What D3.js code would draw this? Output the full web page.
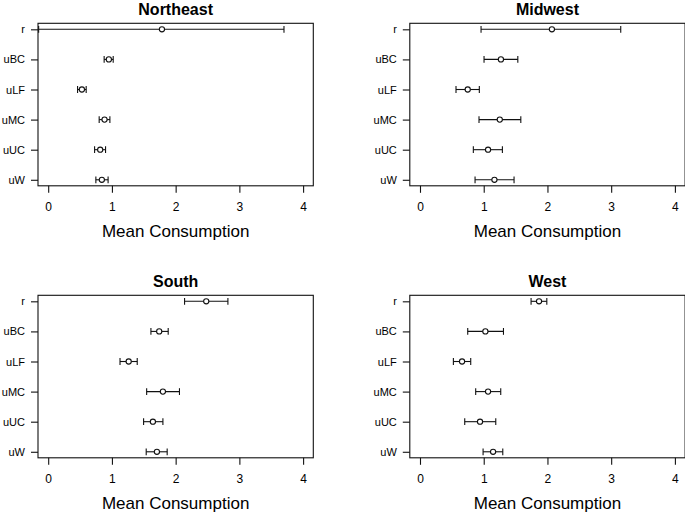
<!DOCTYPE html>
<html>
<head>
<meta charset="utf-8">
<script src="https://cdn.jsdelivr.net/npm/d3@7/dist/d3.min.js"></script>
<style>
  html, body { margin: 0; padding: 0; background: #fff; }
  svg { display: block; }
  text { font-family: "Liberation Sans", Arial, Helvetica, sans-serif; fill: #000; }
</style>
</head>
<body>
<div id="chart"></div>
<script>
// ---- data ----
const regions = ["Northeast", "Midwest", "South", "West"];
const categories = ["r", "uBC", "uLF", "uMC", "uUC", "uW"];
const xTicks = [0, 1, 2, 3, 4];

const meanNortheast  = [1.785, 0.952, 0.529, 0.884, 0.816, 0.842];
const lowerNortheast = [-0.15, 0.878, 0.461, 0.800, 0.728, 0.748];
const upperNortheast = [3.700, 1.020, 0.596, 0.968, 0.900, 0.940];

const meanMidwest  = [2.070, 1.270, 0.749, 1.252, 1.068, 1.168];
const lowerMidwest = [0.958, 1.005, 0.565, 0.926, 0.837, 0.864];
const upperMidwest = [3.150, 1.535, 0.931, 1.582, 1.293, 1.476];

const meanSouth  = [2.480, 1.742, 1.263, 1.800, 1.643, 1.706];
const lowerSouth = [2.140, 1.612, 1.127, 1.545, 1.497, 1.538];
const upperSouth = [2.820, 1.883, 1.397, 2.060, 1.800, 1.867];

const meanWest  = [1.868, 1.026, 0.660, 1.068, 0.942, 1.147];
const lowerWest = [1.743, 0.749, 0.524, 0.874, 0.702, 0.990];
const upperWest = [1.990, 1.310, 0.796, 1.267, 1.189, 1.299];

const panelMeans = [meanNortheast, meanMidwest, meanSouth, meanWest];
const panelLower = [lowerNortheast, lowerMidwest, lowerSouth, lowerWest];
const panelUpper = [upperNortheast, upperMidwest, upperSouth, upperWest];

// ---- layout ----
const W = 685, H = 514;
const plotW = 275.3, plotH = 162.5;
const lefts = [38, 409.8, 38, 409.8];
const tops  = [23.3, 23.3, 295.3, 295.3];
const ink = "#111";

const svg = d3.select("#chart").append("svg")
  .attr("width", W).attr("height", H);

regions.forEach((name, p) => {
  const L = lefts[p], T = tops[p];
  const x = d3.scaleLinear().domain([-0.16, 4.16]).range([L, L + plotW]);
  const y = d3.scaleLinear().domain([0.8, 6.2]).range([T + plotH, T]);
  const yPos = i => y(categories.length - i);

  const g = svg.append("g");

  g.append("rect")
    .attr("x", L).attr("y", T).attr("width", plotW).attr("height", plotH)
    .attr("fill", "none").attr("stroke", ink).attr("stroke-width", 1.1);

  const xa = g.append("g")
    .attr("transform", `translate(0,${T + plotH})`)
    .call(d3.axisBottom(x).tickValues(xTicks).tickSize(7).tickFormat(d3.format("d")));
  xa.select(".domain").remove();
  xa.selectAll(".tick line").attr("stroke", ink).attr("stroke-width", 1.1);
  xa.selectAll(".tick text")
    .attr("y", 25).attr("dy", null)
    .style("font-size", "12px").style("font-family", "Liberation Sans, Arial, sans-serif");

  const ya = g.append("g")
    .attr("transform", `translate(${L},0)`)
    .call(d3.axisLeft(d3.scalePoint().domain(categories).range([yPos(0), yPos(categories.length - 1)]))
      .tickSize(7).tickPadding(6));
  ya.select(".domain").remove();
  ya.selectAll(".tick line").attr("stroke", ink).attr("stroke-width", 1.1);
  ya.selectAll(".tick text")
    .style("font-size", "11px").style("font-family", "Liberation Sans, Arial, sans-serif");

  const means = panelMeans[p], lo = panelLower[p], hi = panelUpper[p];
  const rows = categories.map((c, i) => ({ c, i, m: means[i], lo: lo[i], hi: hi[i] }));
  const bars = g.append("g");
  bars.selectAll("line.bar").data(rows).join("line")
    .attr("class", "bar")
    .attr("x1", d => x(d.lo)).attr("x2", d => x(d.hi))
    .attr("y1", d => yPos(d.i)).attr("y2", d => yPos(d.i))
    .attr("stroke", ink).attr("stroke-width", 1.1);
  bars.selectAll("line.capL").data(rows).join("line")
    .attr("class", "capL")
    .attr("x1", d => x(d.lo)).attr("x2", d => x(d.lo))
    .attr("y1", d => yPos(d.i) - 3.4).attr("y2", d => yPos(d.i) + 3.4)
    .attr("stroke", ink).attr("stroke-width", 1.1);
  bars.selectAll("line.capR").data(rows).join("line")
    .attr("class", "capR")
    .attr("x1", d => x(d.hi)).attr("x2", d => x(d.hi))
    .attr("y1", d => yPos(d.i) - 3.4).attr("y2", d => yPos(d.i) + 3.4)
    .attr("stroke", ink).attr("stroke-width", 1.1);
  bars.selectAll("circle").data(rows).join("circle")
    .attr("cx", d => x(d.m)).attr("cy", d => yPos(d.i)).attr("r", 2.6)
    .attr("fill", "#fff").attr("stroke", ink).attr("stroke-width", 1.1);

  g.append("text")
    .attr("x", L + plotW / 2).attr("y", T - 8.3)
    .attr("text-anchor", "middle")
    .style("font-size", "16px").style("font-weight", "bold")
    .text(name);

  g.append("text")
    .attr("x", L + plotW / 2).attr("y", T + plotH + 51.5)
    .attr("text-anchor", "middle")
    .style("font-size", "17px")
    .text("Mean Consumption");
});
</script>
</body>
</html>
